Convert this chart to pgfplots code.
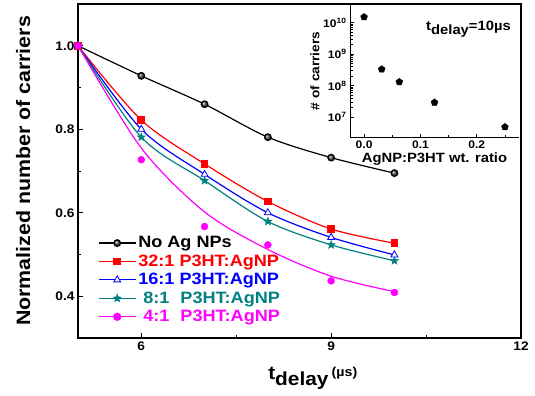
\documentclass[border=0pt]{standalone}
\usepackage{fontspec}
\setmainfont{Liberation Sans}[FakeStretch=1.1]
\usepackage{pgfplots}
\pgfplotsset{compat=1.18}
\definecolor{tealc}{RGB}{0,128,128}
\definecolor{magc}{RGB}{255,0,255}
\pgfdeclareplotmark{fstar}{%
  \pgfpathmoveto{\pgfpointpolar{90}{\pgfplotmarksize}}%
  \pgfpathlineto{\pgfpointpolar{126}{0.42\pgfplotmarksize}}%
  \pgfpathlineto{\pgfpointpolar{162}{\pgfplotmarksize}}%
  \pgfpathlineto{\pgfpointpolar{198}{0.42\pgfplotmarksize}}%
  \pgfpathlineto{\pgfpointpolar{234}{\pgfplotmarksize}}%
  \pgfpathlineto{\pgfpointpolar{270}{0.42\pgfplotmarksize}}%
  \pgfpathlineto{\pgfpointpolar{306}{\pgfplotmarksize}}%
  \pgfpathlineto{\pgfpointpolar{342}{0.42\pgfplotmarksize}}%
  \pgfpathlineto{\pgfpointpolar{18}{\pgfplotmarksize}}%
  \pgfpathlineto{\pgfpointpolar{54}{0.42\pgfplotmarksize}}%
  \pgfpathclose\pgfusepathqfillstroke}
\begin{document}
\begin{tikzpicture}[x=1bp,y=1bp]
\path[use as bounding box] (-78,-57) rectangle (457,338);
\begin{axis}[at={(0,0)}, anchor=south west, scale only axis,
  width=443bp, height=334bp,
  xmin=5, xmax=12, ymin=0.3, ymax=1.1,
  xtick={6,9,12}, minor xtick={7.5,10.5},
  ytick={0.4,0.6,0.8,1.0}, minor ytick={0.5,0.7,0.9},
  tick pos=left, tick align=inside,
  major tick length=5bp, minor tick length=3.5bp,
  axis line style={line width=1.1pt},
  every tick/.style={black, line width=0.9pt},
  /pgf/number format/assume math mode=true,
  yticklabel style={/pgf/number format/.cd, fixed, fixed zerofill, precision=1},
  ticklabel style={font=\fontsize{12.5}{14}\selectfont\bfseries},
  xlabel={\fontsize{19}{22}\selectfont\bfseries t\raisebox{-6bp}{delay}\,\raisebox{3bp}{\fontsize{13}{15}\selectfont(µs)}},
  xlabel style={at={(axis description cs:0.53,0)}, anchor=north, yshift=-26bp},
  ylabel={\fontsize{19.5}{22}\selectfont\bfseries Normalized number of carriers},
  ylabel style={at={(axis description cs:-0.124,0.5)}, anchor=center},
  legend style={at={(axis description cs:0.045,0.31)}, anchor=north west, draw=none, fill=none,
    font=\fontsize{16.5}{18}\selectfont\bfseries, row sep=1.5bp, inner sep=0pt},
  legend cell align=left,
  legend image code/.code={\draw[#1, mark repeat=2, mark phase=2] plot coordinates {(0bp,0bp) (18.5bp,0bp) (37bp,0bp)};},
]
\addplot[black, line width=1.2pt, smooth, mark=ball, mark size=3.3bp, mark options={ball color=black!70}]
  coordinates {(5,1.0) (6,0.928) (7,0.86) (8,0.781) (9,0.732) (10,0.695)};
\addlegendentry{No Ag NPs}
\addplot[red, line width=1.2pt, smooth, mark=square*, mark size=3.3bp, mark options={fill=red}]
  coordinates {(5,1.0) (6,0.822) (7,0.717) (8,0.627) (9,0.561) (10,0.527)};
\addlegendentry{\textcolor{red}{32:1 P3HT:AgNP}}
\addplot[blue, line width=1.2pt, smooth, mark=triangle*, mark size=4bp, mark options={fill=white, line width=0.8pt}]
  coordinates {(5,1.0) (6,0.80) (7,0.692) (8,0.60) (9,0.541) (10,0.499)};
\addlegendentry{\textcolor{blue}{16:1 P3HT:AgNP}}
\addplot[tealc, line width=1.2pt, smooth, mark=fstar, mark size=4.2bp, mark options={fill=tealc, line width=0.5pt}]
  coordinates {(5,1.0) (6,0.781) (7,0.677) (8,0.579) (9,0.523) (10,0.485)};
\addlegendentry{\textcolor{tealc}{\hspace{5bp}8:1\hspace{6bp} P3HT:AgNP}}
\addlegendimage{magc, line width=1.2pt, mark=*, mark size=3.5bp, mark options={fill=magc}}
\addlegendentry{\textcolor{magc}{\hspace{5bp}4:1\hspace{6bp} P3HT:AgNP}}
\addplot[magc, line width=1.2pt, smooth, forget plot]
  coordinates {(5,1.0) (6,0.755) (7,0.602) (8,0.512) (9,0.448) (10,0.411)};
\addplot[magc, only marks, mark=*, mark size=3.5bp, mark options={fill=magc}, forget plot]
  coordinates {(5,1.0) (6,0.727) (7,0.567) (8,0.523) (9,0.437) (10,0.409)};
\end{axis}
\begin{axis}[at={(272bp,200.3bp)}, anchor=south west, scale only axis,
  width=169bp, height=133.7bp,
  ymode=log, xmin=-0.025, xmax=0.275, ymin=2.2e6, ymax=3.9e10,
  axis x line*=bottom, axis y line*=left,
  axis line style={-, line width=1pt},
  every tick/.style={black, line width=0.7pt},
  tick align=inside,
  major tick length=4bp, minor tick length=2.5bp,
  xtick={0,0.1,0.2}, minor xtick={0.05,0.15,0.25}, xticklabels={0.0,0.1,0.2},
  ytick={1e7,1e8,1e9,1e10},
  yticklabels={10\textsuperscript{7},10\textsuperscript{8},10\textsuperscript{9},10\textsuperscript{10}},
  ticklabel style={font=\fontsize{11}{13}\selectfont\bfseries},
  xlabel={\fontsize{13.5}{15}\selectfont\bfseries AgNP:P3HT wt. ratio},
  xlabel style={at={(axis description cs:0.5,-0.16)}, anchor=center},
  ylabel={\fontsize{12.5}{14}\selectfont\bfseries \# of carriers},
  ylabel style={at={(axis description cs:-0.207,0.5)}, anchor=center},
]
\addplot[black, only marks, mark=pentagon*, mark size=3.6bp]
  coordinates {(0,1.5e10) (0.03125,3.3e8) (0.0625,1.3e8) (0.125,2.9e7) (0.25,4.8e6)};
\node[anchor=west, font=\fontsize{13.5}{15}\selectfont\bfseries] at (axis description cs:0.43,0.81) {t\raisebox{-3.5bp}{delay}=10µs};
\end{axis}
\end{tikzpicture}
\end{document}
